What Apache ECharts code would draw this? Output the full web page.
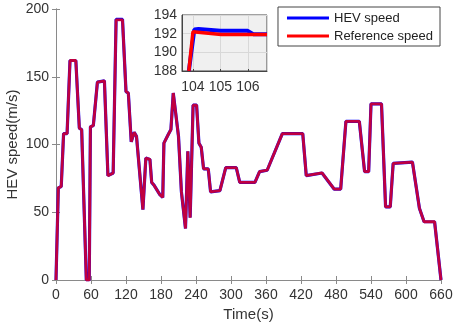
<!DOCTYPE html>
<html>
<head>
<meta charset="utf-8">
<script src="https://cdn.jsdelivr.net/npm/echarts@6/dist/echarts.min.js"></script>
<style>
  html, body { margin: 0; padding: 0; background: #fff; }
  #chart { width: 457px; height: 329px; }
</style>
</head>
<body>
<div id="chart"></div>
<script>
// drive cycle
const timeS = [0, 4, 9, 13, 19, 24, 34, 40, 44, 52, 57, 59, 64, 71, 83, 89, 98, 103, 114, 120, 124, 129, 134, 138,
  149, 154, 161, 164, 168, 178, 183, 185, 192, 197, 201, 203, 210, 215, 218, 222, 226, 228, 230, 235, 241, 245,
  249, 253, 261, 265, 281, 291, 309, 315, 341, 349, 362, 388, 423, 429, 456, 477, 488, 497, 520, 529, 536, 540,
  558, 565, 573, 578, 611, 623, 631, 649, 660]
const refSpeed = [0, 68, 69, 108, 108, 162, 162, 112, 111, 0, 0, 113, 114, 146, 147, 77, 79, 192, 192, 139, 138, 102, 109, 106,
  52, 90, 89, 72, 70, 63, 61, 101, 107, 111, 138, 138, 106, 65, 64, 38, 95, 95, 46, 129, 129, 101,
  98, 82, 82, 65, 66, 83, 83, 72, 72, 80, 81, 108, 108, 77, 79, 67, 67, 117, 117, 80, 80, 130,
  130, 54, 54, 86, 87, 53, 43, 43, 0]
const hevSpeed = [0, 68, 69, 108, 108, 162, 162, 112, 111, 0, 0, 113, 114, 146, 147, 77, 79, 192.4, 192.3, 139, 138, 102, 109, 106,
  52, 90, 89, 72, 70, 63, 61, 101, 107, 111, 138, 138, 106, 65, 64, 38, 95, 95, 46, 129, 129, 101,
  98, 82, 82, 65, 66, 83, 83, 72, 72, 80, 81, 108, 108, 77, 79, 67, 67, 117, 117, 80, 80, 130,
  130, 54, 54, 86, 87, 53, 43, 43, 0]

// zoomed window 104-106 s
const zoomRefT = [103.85, 104.0, 105.03, 106.7]
const zoomRefV = [188, 192.2, 191.9, 191.9]
const zoomHevT = [103.85, 104.05, 104.2, 105.0, 106.0, 106.2, 106.7]
const zoomHevV = [188, 192.45, 192.5, 192.3, 192.3, 191.95, 191.95]

function pairs (xs, ys) {
  let out = []
  for (var i = 0; i < xs.length; i++) out.push([xs[i], ys[i]])
  return out
}

const font = 'Liberation Sans, Arial, sans-serif'
const axisGray = '#8a8a8a'
const textGray = '#333'

let myChart = echarts.init(document.getElementById('chart'))

const mirror = { show: true, lineStyle: { color: axisGray } }

myChart.setOption({
  animation: false,
  textStyle: { fontFamily: font },
  grid: [
    { left: 56, right: 16, top: 9, bottom: 49, outerBoundsMode: 'none', containLabel: false },
    { left: 182, top: 15, width: 85, height: 56, show: true, outerBoundsMode: 'none', containLabel: false,
      backgroundColor: '#f0f0f0', borderColor: '#444', borderWidth: 1 }
  ],
  legend: {
    orient: 'vertical', right: 17, top: 7,
    itemWidth: 42, itemHeight: 3, itemGap: 4,
    icon: 'rect',
    padding: [4, 7, 3, 9],
    borderColor: '#444', borderWidth: 1, backgroundColor: '#fff',
    textStyle: { fontSize: 13, color: '#222', fontFamily: font, lineHeight: 14 },
    data: [
      { name: 'HEV speed', itemStyle: { color: '#0000ff', opacity: 1 } },
      { name: 'Reference speed', itemStyle: { color: '#ff0000', opacity: 1 } }
    ]
  },
  xAxis: [
    { type: 'value', gridIndex: 0, min: 0, max: 660, interval: 60,
      name: 'Time(s)', nameLocation: 'middle', nameGap: 27, nameMoveOverlap: false,
      nameTextStyle: { fontSize: 15, color: textGray },
      axisLine: mirror, axisTick: { inside: true, length: 4, lineStyle: { color: axisGray } },
      axisLabel: { fontSize: 14, color: textGray, margin: 8 },
      splitLine: { show: false } },
    { type: 'value', gridIndex: 0, position: 'top', min: 0, max: 660, interval: 60,
      axisLine: mirror, axisTick: { inside: true, length: 4, lineStyle: { color: axisGray } },
      axisLabel: { show: false }, splitLine: { show: false } },
    { type: 'value', gridIndex: 1, min: 103.6, max: 106.7, splitNumber: 3,
      axisLine: { show: true, lineStyle: { color: '#444' } },
      axisTick: { inside: true, length: 2, lineStyle: { color: '#444' } },
      axisLabel: { fontSize: 14, color: textGray, margin: 9, showMinLabel: false, showMaxLabel: false },
      splitLine: { show: true, lineStyle: { color: '#d8d8d8' } } }
  ],
  yAxis: [
    { type: 'value', gridIndex: 0, min: 0, max: 200, interval: 50,
      name: 'HEV speed(m/s)', nameLocation: 'middle', nameGap: 36, nameMoveOverlap: false,
      nameTextStyle: { fontSize: 15, color: textGray },
      axisLine: mirror, axisTick: { show: true, inside: true, length: 4, lineStyle: { color: axisGray } },
      axisLabel: { fontSize: 14, color: textGray, margin: 7 },
      splitLine: { show: false } },
    { type: 'value', gridIndex: 0, position: 'right', min: 0, max: 200, interval: 50,
      axisLine: mirror, axisTick: { show: true, inside: true, length: 4, lineStyle: { color: axisGray } },
      axisLabel: { show: false }, splitLine: { show: false } },
    { type: 'value', gridIndex: 1, min: 188, max: 194, interval: 2,
      axisLine: { show: true, lineStyle: { color: '#444' } },
      axisTick: { show: false },
      axisLabel: { fontSize: 14, color: textGray, margin: 5 },
      splitLine: { show: true, lineStyle: { color: '#d8d8d8' } } }
  ],
  series: [
    { name: 'HEV speed', type: 'line', xAxisIndex: 0, yAxisIndex: 0, symbol: 'none',
      data: pairs(timeS, hevSpeed), lineStyle: { color: '#0000ff', width: 3.2 }, itemStyle: { color: '#0000ff' } },
    { name: 'Reference speed', type: 'line', xAxisIndex: 0, yAxisIndex: 0, symbol: 'none',
      data: pairs(timeS, refSpeed), lineStyle: { color: '#ff0000', width: 2.8, opacity: 0.75 }, itemStyle: { color: '#ff0000' } },
    { name: 'HEV speed', type: 'line', xAxisIndex: 2, yAxisIndex: 2, symbol: 'none', clip: true,
      data: pairs(zoomHevT, zoomHevV), lineStyle: { color: '#0000ff', width: 4 } },
    { name: 'Reference speed', type: 'line', xAxisIndex: 2, yAxisIndex: 2, symbol: 'none', clip: true,
      data: pairs(zoomRefT, zoomRefV), lineStyle: { color: '#ff0000', width: 3.5 } }
  ]
})
</script>
</body>
</html>
